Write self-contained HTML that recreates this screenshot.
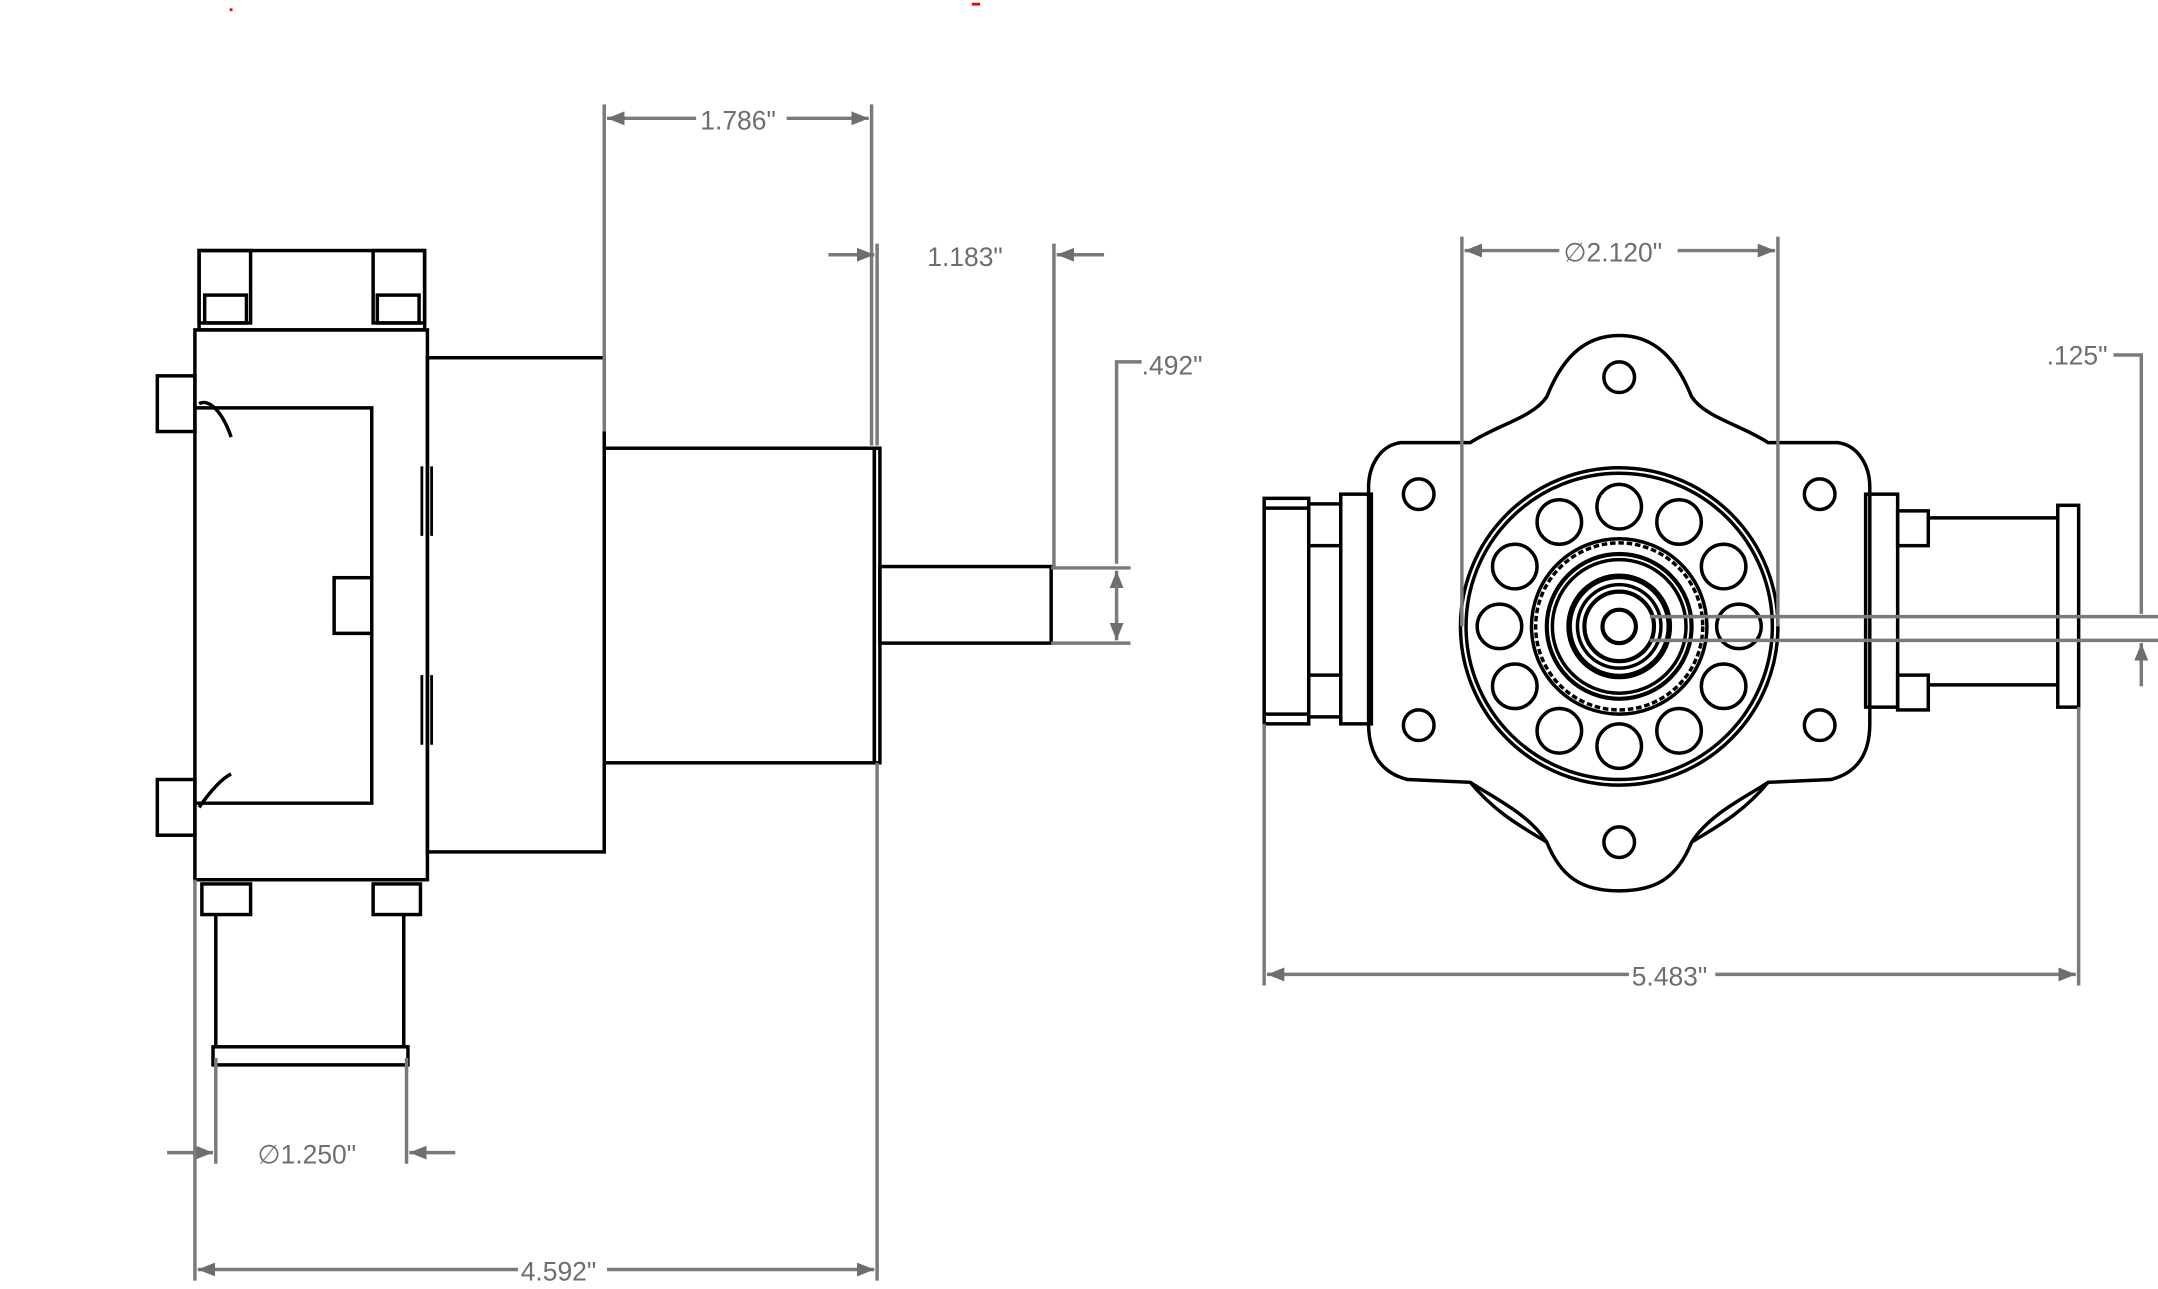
<!DOCTYPE html>
<html><head><meta charset="utf-8"><style>
html,body{margin:0;padding:0;background:#fff;}
svg{display:block;}
text{font-family:"Liberation Sans","DejaVu Sans",sans-serif;font-size:19px;fill:#6e6e6e;}
</style></head><body>
<svg width="2158" height="1289" viewBox="0 0 1550 926" preserveAspectRatio="none" xmlns="http://www.w3.org/2000/svg">
<defs>
<marker id="a" viewBox="0 0 10 10" refX="10" refY="5" markerWidth="5" markerHeight="5" orient="auto-start-reverse"><path d="M0,1 L10,5 L0,9 z" fill="#6e6e6e"/></marker>
</defs>
<rect x="0" y="0" width="1550" height="926" fill="#fff"/>
<g fill="none" stroke="#000" stroke-width="2.5">
<rect x="143" y="180" width="162" height="57"/>
<rect x="143" y="180" width="37" height="52"/>
<rect x="268" y="180" width="37" height="52"/>
<rect x="147" y="212" width="30" height="20"/>
<rect x="271" y="212" width="30" height="20"/>
<rect x="140" y="237" width="167" height="395"/>
<polyline points="140,293 267,293 267,577 140,577"/>
<rect x="113" y="270" width="27" height="40"/>
<rect x="113" y="560" width="27" height="40"/>
<rect x="240" y="415" width="27" height="40"/>
<path d="M143,290 C150,286 160,296 166,314"/>
<path d="M143,580 C150,570 158,560 166,556"/>
<rect x="307" y="257" width="127" height="355"/>
<rect x="434" y="322" width="194" height="226"/>
<rect x="628" y="322" width="4" height="226"/>
<rect x="632" y="407" width="123" height="55"/>
<rect x="145" y="635" width="35" height="22"/>
<rect x="268" y="635" width="34" height="22"/>
<line x1="155" y1="657" x2="155" y2="752"/>
<line x1="290" y1="657" x2="290" y2="752"/>
<rect x="153" y="752" width="140" height="13"/>
</g>
<g stroke="#000" stroke-width="2">
<line x1="303" y1="335" x2="303" y2="385"/><line x1="310" y1="335" x2="310" y2="385"/>
<line x1="303" y1="485" x2="303" y2="535"/><line x1="310" y1="485" x2="310" y2="535"/>
</g>
<g fill="none" stroke="#000" stroke-width="2.5">
<path d="M1163,241 C1190,241 1205,260 1215,285 C1225,300 1250,305 1270,318 L1320,318 C1335,320 1343,335 1343,350 L1343,520 C1343,540 1335,555 1315,560 L1270,562 C1250,575 1228,585 1215,605 C1205,630 1190,640 1163,640 C1136,640 1121,630 1111,605 C1098,585 1076,575 1056,562 L1011,560 C991,555 983,540 983,520 L983,350 C983,335 991,320 1006,318 L1056,318 C1076,305 1101,300 1111,285 C1121,260 1136,241 1163,241 Z"/>
<path d="M1056,562 C1075,585 1095,595 1111,605"/>
<path d="M1270,562 C1251,585 1231,595 1215,605"/>
<circle cx="1163" cy="271" r="11"/><circle cx="1163" cy="605" r="11"/>
<circle cx="1019" cy="355" r="11"/><circle cx="1307" cy="355" r="11"/>
<circle cx="1019" cy="521" r="11"/><circle cx="1307" cy="521" r="11"/>
<circle cx="1163" cy="450" r="114"/><circle cx="1163" cy="450" r="110"/>
<circle cx="1163" cy="364" r="16"/><circle cx="1206" cy="375" r="16"/><circle cx="1238" cy="407" r="16"/>
<circle cx="1249" cy="450" r="16"/><circle cx="1238" cy="493" r="16"/><circle cx="1206" cy="525" r="16"/>
<circle cx="1163" cy="536" r="16"/><circle cx="1120" cy="525" r="16"/><circle cx="1088" cy="493" r="16"/>
<circle cx="1077" cy="450" r="16"/><circle cx="1088" cy="407" r="16"/><circle cx="1120" cy="375" r="16"/>
<circle cx="1163" cy="450" r="63"/><circle cx="1163" cy="450" r="60" stroke-dasharray="4,2"/>
<circle cx="1163" cy="450" r="52" stroke-width="3"/><circle cx="1163" cy="450" r="48"/>
<circle cx="1163" cy="450" r="36" stroke-width="4"/><circle cx="1163" cy="450" r="30"/><circle cx="1163" cy="450" r="25" stroke-width="3"/>
<circle cx="1163" cy="450" r="12" stroke-width="3"/>
<rect x="1340" y="355" width="23" height="153"/>
<rect x="1363" y="367" width="22" height="25"/><rect x="1363" y="485" width="22" height="25"/>
<line x1="1385" y1="372" x2="1478" y2="372"/><line x1="1385" y1="492" x2="1478" y2="492"/>
<rect x="1478" y="363" width="15" height="145"/>
<rect x="963" y="355" width="22" height="165"/>
<rect x="940" y="362" width="23" height="30"/><rect x="940" y="485" width="23" height="30"/>
<rect x="908" y="358" width="32" height="162"/>
<line x1="908" y1="365" x2="940" y2="365"/><line x1="908" y1="513" x2="940" y2="513"/>
</g>
<g fill="none" stroke="#7a7a7a" stroke-width="2.5">
<line x1="434" y1="75" x2="434" y2="310"/><line x1="626" y1="75" x2="626" y2="320"/>
<line x1="436" y1="85" x2="500" y2="85" marker-start="url(#a)"/><line x1="565" y1="85" x2="624" y2="85" marker-end="url(#a)"/>
<line x1="630" y1="175" x2="630" y2="320"/><line x1="757" y1="175" x2="757" y2="407"/>
<line x1="595" y1="183" x2="628" y2="183" marker-end="url(#a)"/><line x1="793" y1="183" x2="759" y2="183" marker-end="url(#a)"/>
<line x1="755" y1="408" x2="812" y2="408"/><line x1="755" y1="462" x2="812" y2="462"/>
<polyline points="820,260 802,260 802,405"/><line x1="802" y1="415" x2="802" y2="410" marker-end="url(#a)"/><line x1="802" y1="460" x2="802" y2="420" marker-start="url(#a)"/>
<line x1="155" y1="760" x2="155" y2="836"/><line x1="292" y1="760" x2="292" y2="836"/>
<line x1="120" y1="828" x2="153" y2="828" marker-end="url(#a)"/><line x1="327" y1="828" x2="294" y2="828" marker-end="url(#a)"/>
<line x1="140" y1="632" x2="140" y2="920"/><line x1="630" y1="548" x2="630" y2="920"/>
<line x1="142" y1="912" x2="372" y2="912" marker-start="url(#a)"/><line x1="436" y1="912" x2="628" y2="912" marker-end="url(#a)"/>
<line x1="1050" y1="170" x2="1050" y2="450"/><line x1="1277" y1="170" x2="1277" y2="450"/>
<line x1="1052" y1="180" x2="1120" y2="180" marker-start="url(#a)"/><line x1="1205" y1="180" x2="1275" y2="180" marker-end="url(#a)"/>
<line x1="908" y1="520" x2="908" y2="708"/><line x1="1493" y1="508" x2="1493" y2="708"/>
<line x1="910" y1="700" x2="1170" y2="700" marker-start="url(#a)"/><line x1="1232" y1="700" x2="1491" y2="700" marker-end="url(#a)"/>
<line x1="1185" y1="443" x2="1550" y2="443"/><line x1="1185" y1="460" x2="1550" y2="460"/>
<polyline points="1518,255 1538,255 1538,441"/><line x1="1538" y1="493" x2="1538" y2="462" marker-end="url(#a)"/>
</g>
<text x="503" y="93">1.786"</text>
<text x="666" y="191">1.183"</text>
<text x="820" y="269">.492"</text>
<text x="185" y="836">∅1.250"</text>
<text x="374" y="920">4.592"</text>
<text x="1123" y="188">∅2.120"</text>
<text x="1172" y="708">5.483"</text>
<text x="1470" y="262">.125"</text>
<rect x="165" y="6" width="2" height="2" fill="#e00"/>
<rect x="698" y="2" width="6" height="2" fill="#e00"/>
</svg>
</body></html>
